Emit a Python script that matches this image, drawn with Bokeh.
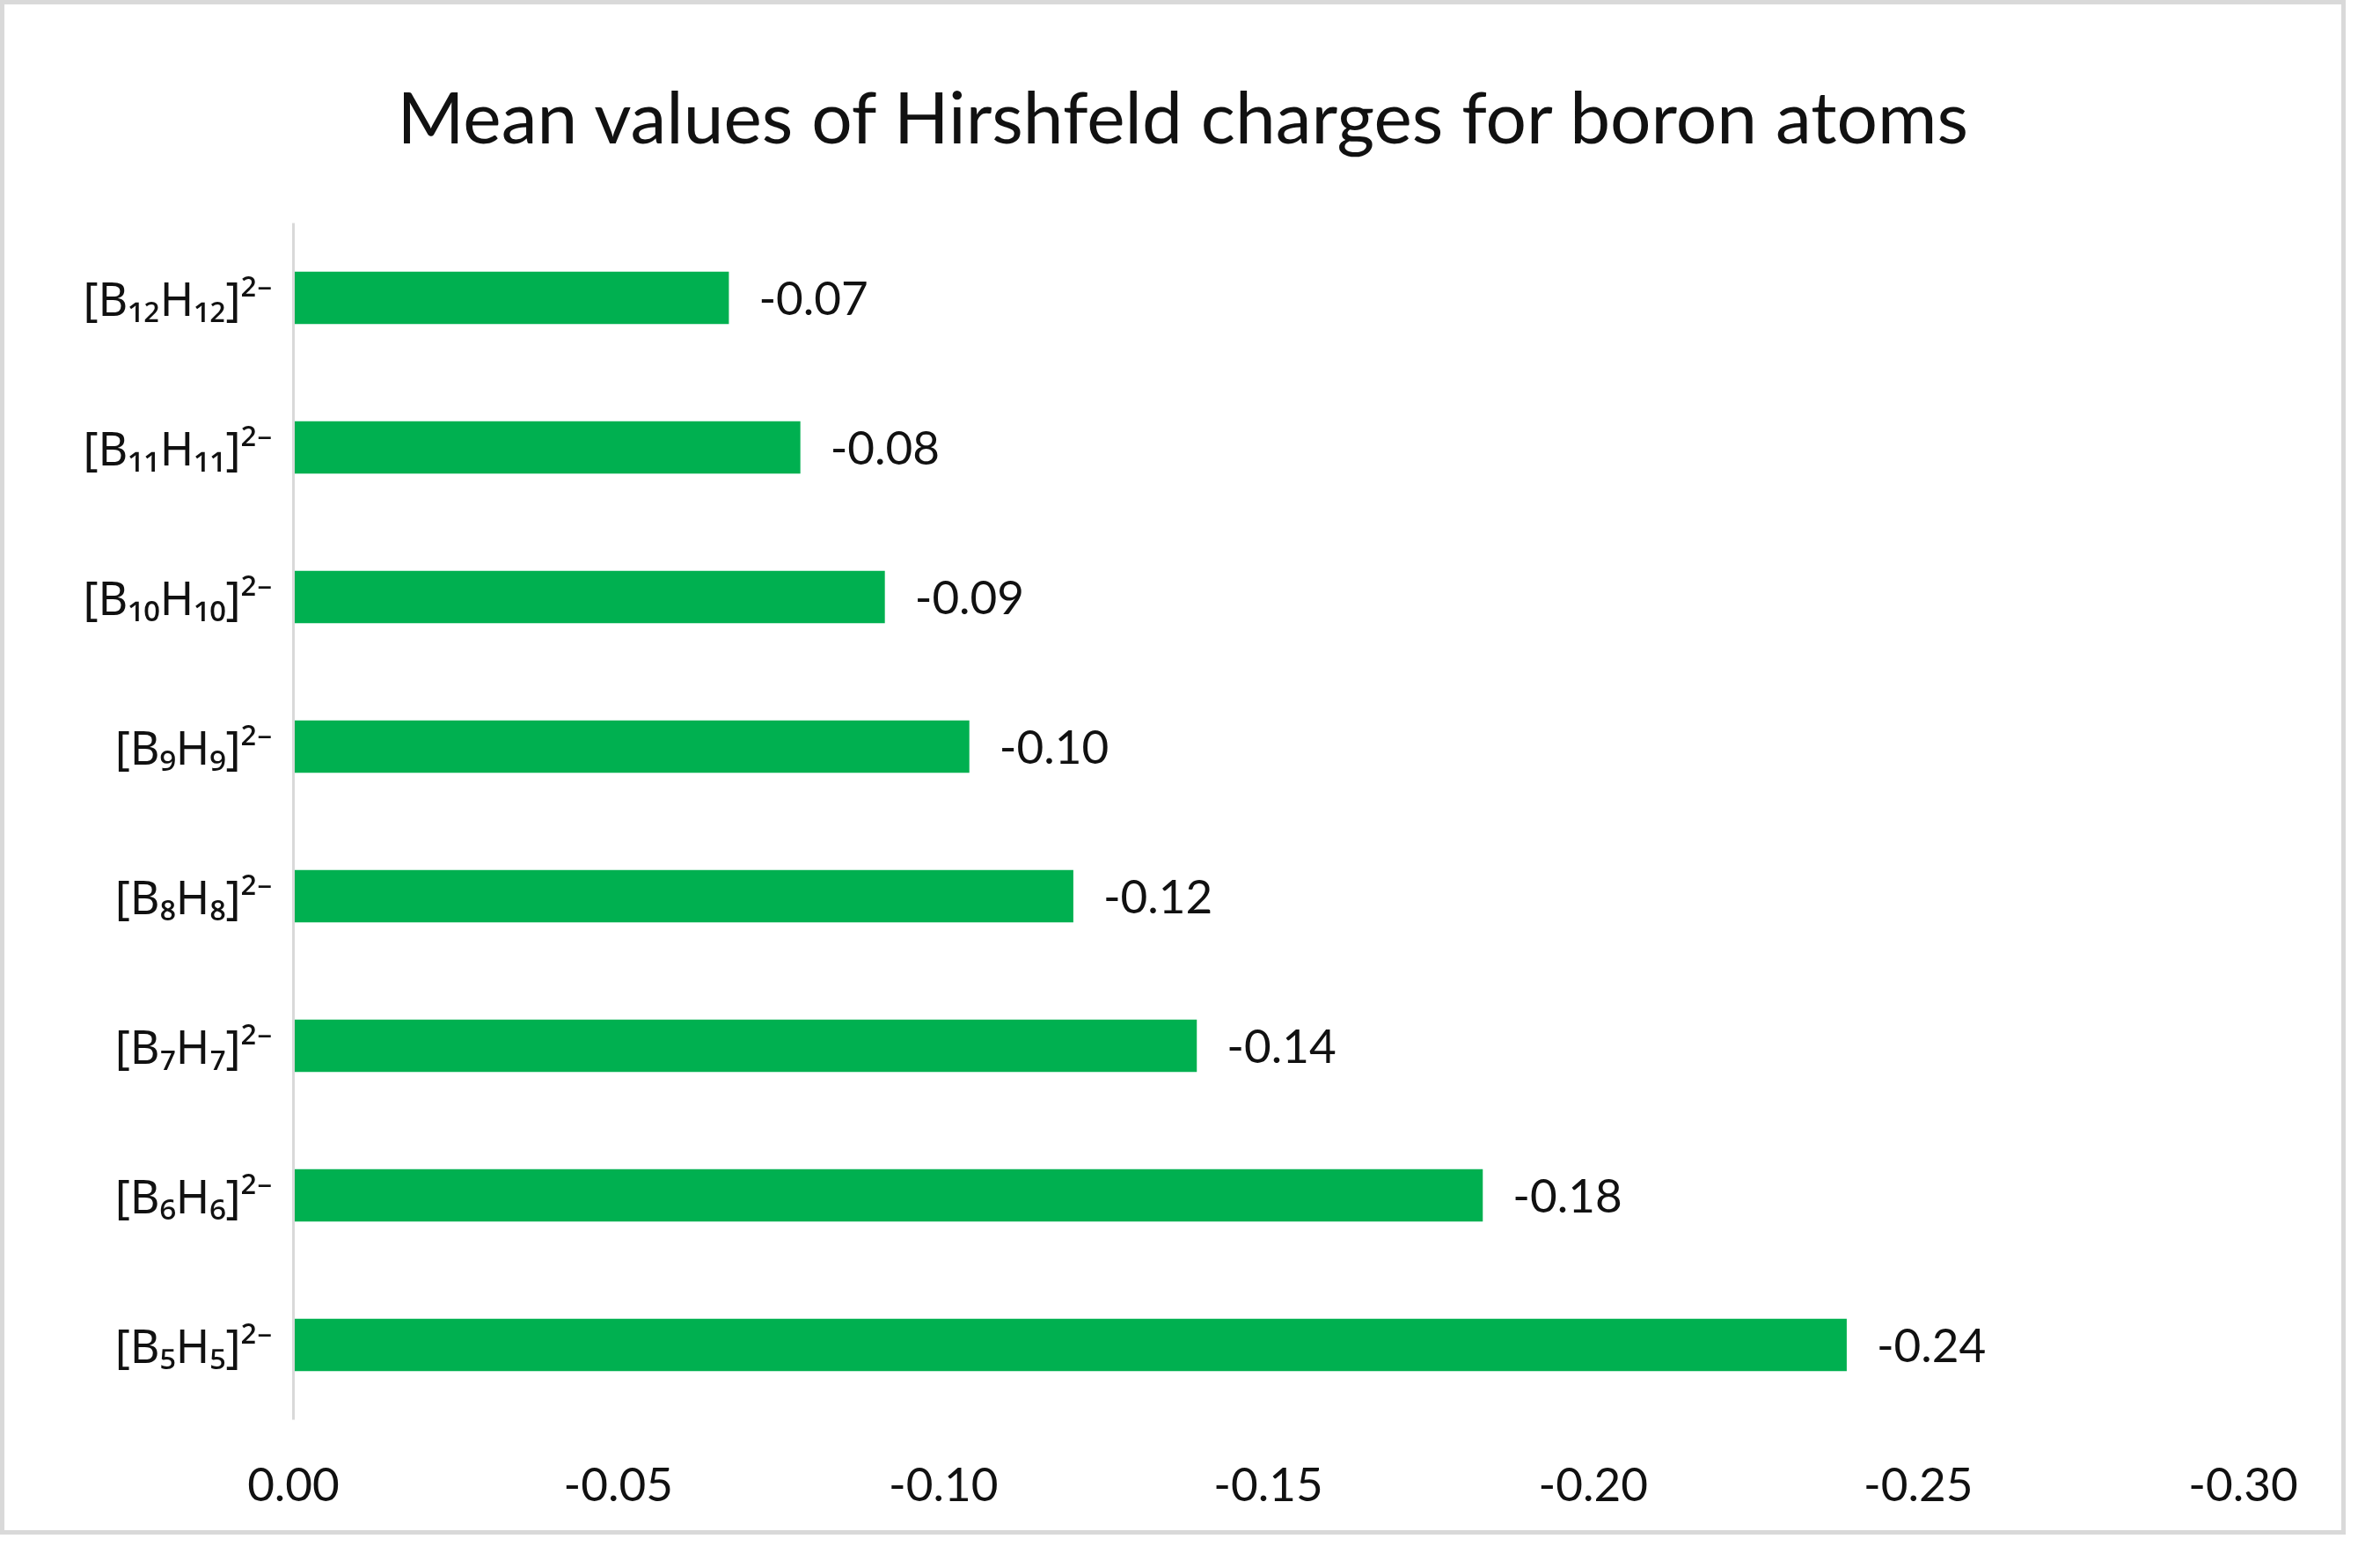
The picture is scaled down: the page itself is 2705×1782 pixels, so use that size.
from bokeh.plotting import figure
from bokeh.models import Range1d, FactorRange, FixedTicker, PrintfTickFormatter, ColumnDataSource
from bokeh.embed import file_html
from bokeh.resources import INLINE

# ---- data ----
categories = ["[B₅H₅]²⁻", "[B₆H₆]²⁻", "[B₇H₇]²⁻", "[B₈H₈]²⁻",
              "[B₉H₉]²⁻", "[B₁₀H₁₀]²⁻", "[B₁₁H₁₁]²⁻", "[B₁₂H₁₂]²⁻"]
charges = [-0.239, -0.183, -0.139, -0.120, -0.104, -0.091, -0.078, -0.067]
x_ticks = [0.0, -0.05, -0.10, -0.15, -0.20, -0.25, -0.30]
title_text = "Mean values of Hirshfeld charges for boron atoms"

labels = [f"{v:.2f}" for v in charges]
src = ColumnDataSource(dict(cat=categories, val=charges, lab=labels))

FONT = "Lato"
TXT = "#111111"

p = figure(width=2666, height=1744,
           y_range=FactorRange(factors=categories),
           x_range=Range1d(start=0.0, end=-0.30),
           output_backend="svg", toolbar_location=None,
           min_border_left=328, min_border_right=122,
           min_border_top=248, min_border_bottom=136)
p.styles = {"border": "5px solid #d9d9d9"}

p.title.text = title_text
p.title.text_font = FONT
p.title.text_font_size = "82px"
p.title.text_font_style = "normal"
p.title.text_color = TXT
p.title.align = "left"
p.title.offset = 118
p.title.standoff = 148

p.hbar(y="cat", left=0, right="val", height=0.35, source=src,
       fill_color="#00b050", line_color=None)

p.text(x="val", y="cat", text="lab", source=src, x_offset=34,
       text_align="left", text_baseline="middle",
       text_font_size="53px", text_color=TXT, text_font={"value": FONT})

p.xgrid.visible = False
p.ygrid.visible = False
p.outline_line_color = None
p.background_fill_color = "white"
p.border_fill_color = "white"

xa = p.xaxis[0]
xa.ticker = FixedTicker(ticks=x_ticks)
xa.formatter = PrintfTickFormatter(format="%.2f")
xa.axis_line_color = None
xa.major_tick_line_color = None
xa.minor_tick_line_color = None
xa.major_label_text_font = FONT
xa.major_label_text_font_size = "53px"
xa.major_label_text_color = TXT
xa.major_label_standoff = 48

ya = p.yaxis[0]
ya.axis_line_color = "#d9d9d9"
ya.axis_line_width = 3
ya.major_tick_line_color = None
ya.minor_tick_line_color = None
ya.major_label_text_font = "Noto Sans"
ya.major_label_text_font_size = "52px"
ya.major_label_text_color = TXT
ya.major_label_standoff = 18

open("out.html", "w").write(file_html(p, INLINE))
